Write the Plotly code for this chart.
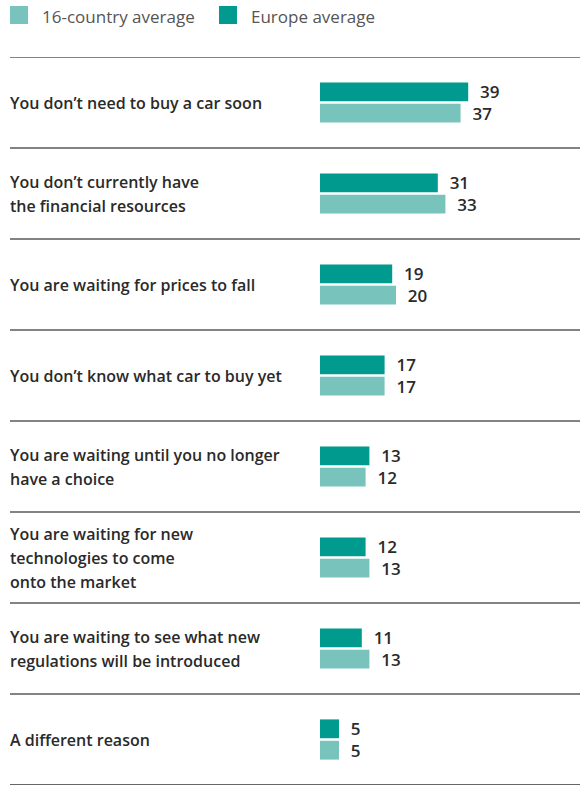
import plotly.graph_objects as go

categories = [
    "You don’t need to buy a car soon",
    "You don’t currently have<br>the financial resources",
    "You are waiting for prices to fall",
    "You don’t know what car to buy yet",
    "You are waiting until you no longer<br>have a choice",
    "You are waiting for new<br>technologies to come<br>onto the market",
    "You are waiting to see what new<br>regulations will be introduced",
    "A different reason",
]
europe = [39, 31, 19, 17, 13, 12, 11, 5]
country16 = [37, 33, 20, 17, 12, 13, 13, 5]
series_names = ["16-country average", "Europe average"]

C_EU = "#009a8e"
C_16 = "#78c4bd"
TXT = "#2a2a2a"
FONT = "Open Sans"

W, H = 585, 787
L, R, T, B = 320, 5, 57, 2
PW = W - L - R
PX_PER_UNIT = 3.8

fig = go.Figure()
for name, vals, col in [(series_names[0], country16, C_16), (series_names[1], europe, C_EU)]:
    fig.add_trace(go.Bar(
        y=categories, x=vals, orientation="h", name=name,
        marker=dict(color=col, line=dict(width=0)),
        text=vals, texttemplate="  %{x}", textposition="outside",
        constraintext="none", cliponaxis=False,
        textfont=dict(family=FONT, size=17, color=TXT, weight=600),
        hoverinfo="skip",
    ))

shapes = []
annotations = []
x_line = (10 - L) / PW
x_text = (8 - L) / PW
n = len(categories)
for i in range(n + 1):
    yv = i - 0.5
    shapes.append(dict(
        type="line", xref="paper", yref="y", x0=x_line, x1=1,
        y0=yv, y1=yv,
        line=dict(color="#333333" if i == 0 else "#5a5a5a", width=1.3),
    ))

# category labels, one annotation per line for custom spacing
for idx, cat in enumerate(categories):
    lines = cat.split("<br>")
    k = len(lines)
    for j, ln in enumerate(lines):
        annotations.append(dict(
            xref="paper", yref="y", x=x_text, y=n - 1 - idx,
            text=ln, showarrow=False, xanchor="left", yanchor="middle",
            yshift=-(j - (k - 1) / 2) * 24,
            font=dict(family=FONT, size=16, color=TXT, weight=600),
        ))

# custom legend
legend_items = [(series_names[0], C_16, 10), (series_names[1], C_EU, 219)]
for name, col, lx in legend_items:
    shapes.append(dict(
        type="rect", xref="paper", yref="paper",
        x0=(lx - L) / PW, x1=(lx + 18 - L) / PW,
        y0=1 + (T - 6) / (H - T - B), y1=1 + (T - 24) / (H - T - B),
        fillcolor=col, line=dict(width=0),
    ))
    annotations.append(dict(
        xref="paper", yref="paper", x=(lx + 30 - L) / PW,
        y=1 + (T - 17) / (H - T - B),
        text=name, showarrow=False, xanchor="left", yanchor="middle",
        font=dict(family=FONT, size=17, color="#555555"),
    ))

fig.update_layout(
    width=W, height=H,
    margin=dict(l=L, r=R, t=T, b=B, pad=0),
    paper_bgcolor="white", plot_bgcolor="white",
    barmode="group", bargap=0.53, bargroupgap=0.12,
    showlegend=False,
    xaxis=dict(range=[0, PW / PX_PER_UNIT], visible=False, fixedrange=True),
    yaxis=dict(
        categoryorder="array", categoryarray=list(reversed(categories)),
        range=[-0.5, n - 0.5], showticklabels=False, showgrid=False,
        zeroline=False, showline=False, ticks="", fixedrange=True,
    ),
    shapes=shapes, annotations=annotations,
    font=dict(family=FONT),
)

fig.write_html(
    "out.html",
    config={"displayModeBar": False, "staticPlot": True},
    post_script="document.body.style.margin='0';document.body.style.overflow='hidden';",
)
